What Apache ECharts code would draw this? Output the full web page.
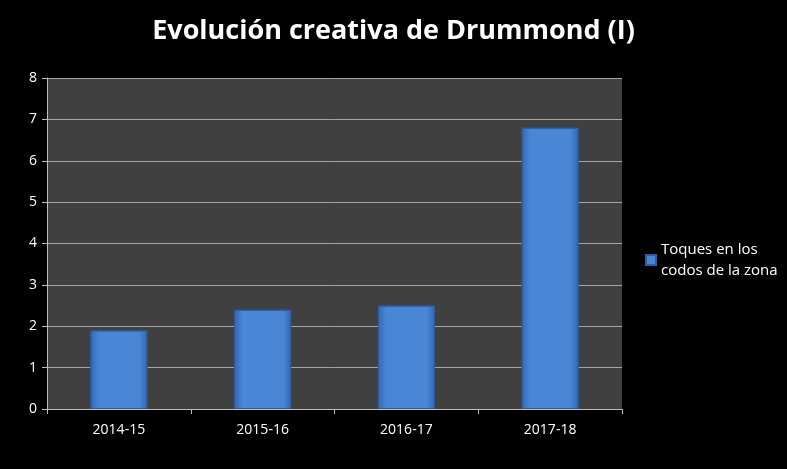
<!DOCTYPE html>
<html><head><meta charset="utf-8">
<script src="https://cdn.jsdelivr.net/npm/echarts@6/dist/echarts.min.js"></script>
<style>html,body{margin:0;background:#000}#c{width:787px;height:469px}</style>
</head><body><div id="c"></div>
<script>
const categories = ['2014-15','2015-16','2016-17','2017-18'];
const values = [1.9, 2.4, 2.5, 6.8];
const seriesName = 'Toques en los\ncodos de la zona';
const chart = echarts.init(document.getElementById('c'));
chart.setOption({
  backgroundColor:'#000',
  title:{text:'Evolución creativa de Drummond (I)',left:'center',top:13,
    textStyle:{color:'#fff',fontSize:27,fontWeight:'bold',fontFamily:'Open Sans'}},
  legend:{left:640,top:234,orient:'vertical',itemWidth:10,itemHeight:10,itemGap:4,
    textStyle:{color:'#fff',fontSize:15,fontFamily:'Open Sans',lineHeight:21},
    data:[{name:seriesName,icon:'rect'}]},
  grid:{left:47,right:165,top:78,bottom:60,show:true,backgroundColor:'#404040',borderWidth:0},
  xAxis:{type:'category',data:categories,
    axisLine:{lineStyle:{color:'#bfbfbf'}},axisTick:{show:true,lineStyle:{color:'#bfbfbf'}},
    axisLabel:{color:'#fff',fontSize:14,margin:14,fontFamily:'Open Sans'}},
  yAxis:{type:'value',min:0,max:8,interval:1,
    axisLine:{show:true,lineStyle:{color:'#bfbfbf'}},axisTick:{show:true,lineStyle:{color:'#bfbfbf'}},
    splitLine:{lineStyle:{color:'#a6a6a6'}},
    axisLabel:{color:'#fff',fontSize:14,margin:10,fontFamily:'Open Sans'}},
  series:[{name:seriesName,type:'bar',data:values,barWidth:57,
    itemStyle:{color:new echarts.graphic.LinearGradient(0,0,1,0,[
      {offset:0,color:'#3567b0'},{offset:0.15,color:'#4a86d6'},{offset:0.85,color:'#4a86d6'},{offset:1,color:'#3567b0'}]),
      borderColor:'#2f5c9e',borderWidth:1}}]
});
</script></body></html>
